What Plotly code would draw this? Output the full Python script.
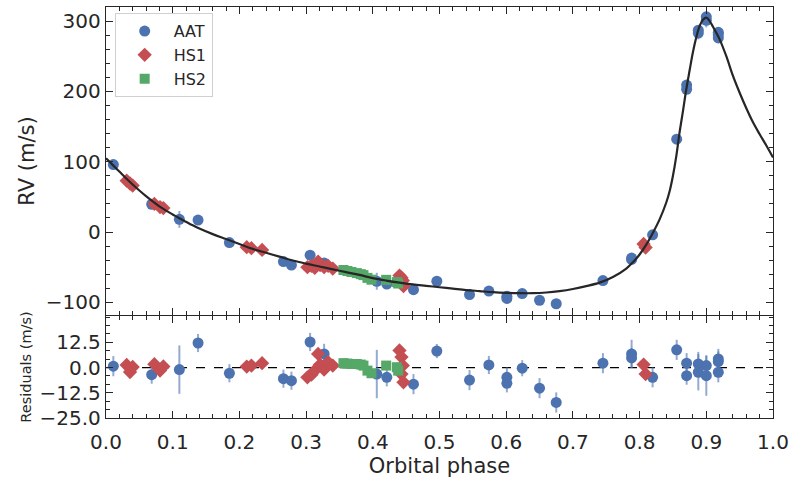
import plotly.graph_objects as go

# ---------------- data ----------------
# Keplerian model curve
model_phase = [0.00, 0.01, 0.02, 0.03, 0.04, 0.05, 0.06, 0.07, 0.08, 0.09, 0.10, 0.11, 0.12, 0.13,
               0.14, 0.16, 0.18, 0.20, 0.22, 0.24, 0.26, 0.28, 0.30, 0.32, 0.34, 0.36, 0.38, 0.40,
               0.42, 0.44, 0.46, 0.48, 0.50, 0.52, 0.54, 0.56, 0.58, 0.60, 0.62, 0.64, 0.66, 0.68,
               0.70, 0.72, 0.74, 0.76, 0.78, 0.79, 0.80, 0.81, 0.82, 0.83, 0.84, 0.845, 0.85, 0.855,
               0.86, 0.865, 0.87, 0.875, 0.88, 0.885, 0.89, 0.895, 0.90, 0.905, 0.91, 0.92, 0.93,
               0.94, 0.95, 0.96, 0.97, 0.98, 0.99, 1.00]
model_rv = [105, 95.5, 86, 76.5, 67.5, 59, 51, 43.5, 36.5, 30.5, 25, 19.5, 14.5, 9.5,
            5, -3, -10, -17, -24, -29.5, -35, -40.5, -45, -49, -53, -57, -61, -65.5,
            -69, -72, -74.5, -76.5, -78.5, -80.5, -82.5, -84, -85.5, -86.5, -87, -87, -86, -84,
            -81, -77, -72, -64, -52, -43, -32, -18, -1, 18, 42, 58, 80, 108,
            142, 172, 203, 230, 256, 277, 293, 302, 305, 300, 292, 274, 250,
            222, 198, 176, 156, 139, 123, 106]

# AAT
aat_phase = [0.011, 0.0685, 0.110, 0.138, 0.185, 0.266, 0.278, 0.306, 0.327, 0.406, 0.421, 0.461,
             0.496, 0.545, 0.574, 0.601, 0.601, 0.624, 0.650, 0.675, 0.745, 0.788, 0.788, 0.8195,
             0.8556, 0.8705, 0.8705, 0.888, 0.888, 0.900, 0.900, 0.918, 0.918, 0.918]
aat_rv = [96, 39.5, 18, 17, -15, -42, -47, -33, -44, -70, -74, -82,
          -70, -89, -84, -91.5, -94.5, -87.5, -97, -102, -69, -37, -39, -4,
          132, 209, 203, 287, 283, 306, 301, 284, 281, 276]
aat_err = [5, 4.5, 12, 4.5, 4.5, 4.5, 4.5, 4.5, 5, 12, 4.5, 5,
           3.5, 5, 4.5, 5, 4.5, 4, 5, 5, 5, 7, 5, 5,
           5, 5, 4.5, 6, 9, 5, 10, 5, 5, 5]
aat_res = [0.7, -3.5, -1.0, 12.2, -2.8, -5.5, -6.5, 12.7, 6.8, -3.2, -4.8, -8.2,
           8.2, -6.2, 1.3, -4.8, -7.8, -0.3, -10.2, -17.3, 2.2, 6.8, 4.8, -4.8,
           8.8, 2.2, -4.0, 1.8, -2.3, 1.0, -4.0, 4.3, 3.0, -2.3]

# HS1
hs1_phase = [0.031, 0.036, 0.040, 0.0725, 0.081, 0.086, 0.211, 0.218, 0.234,
             0.302, 0.308, 0.313, 0.318, 0.321, 0.327, 0.333, 0.340,
             0.440, 0.443, 0.445, 0.443, 0.446, 0.806, 0.809]
hs1_rv = [73, 69, 66, 40, 35.5, 34, -21.5, -23, -25.5,
          -50, -48, -51, -42, -47, -50, -48, -52,
          -62, -65, -69, -73, -77, -17, -22]
hs1_err = [2] * 24
hs1_res = [1.3, -2.2, 0.3, 1.7, -1.5, 0.6, 0.5, 1.0, 2.2,
           -4.8, -3.5, -1.5, 6.8, 1.5, -1.0, 2.7, 1.0,
           8.5, 5.2, 1.0, -3.2, -7.3, 1.5, -3.2]

# HS2
hs2_phase = [0.356, 0.362, 0.368, 0.376, 0.382, 0.386, 0.392, 0.398, 0.420, 0.436, 0.438]
hs2_rv = [-54, -55.4, -56.8, -58.4, -59.9, -61.3, -65.2, -67.8, -68, -71.2, -73.2]
hs2_err = [1.5] * 11
hs2_res = [2.2, 2.0, 1.8, 1.8, 1.5, 1.0, -1.5, -2.8, 1.0, 0.2, -1.5]

# ---------------- styling ----------------
BLUE = "#4C72B0"
RED = "#C44E52"
GREEN = "#55A868"
AX = "#262626"
FONT = "DejaVu Sans"

fig = go.Figure()


def add_series(name, ph, rv, err, res, color, ecolor, symbol, size):
    fig.add_trace(go.Scatter(
        x=ph, y=rv, mode="markers", name=name, legendgroup=name,
        marker=dict(color=color, symbol=symbol, size=size, line=dict(width=0)),
        error_y=dict(type="data", array=err, visible=True, color=ecolor, thickness=2, width=0),
        xaxis="x", yaxis="y"))
    fig.add_trace(go.Scatter(
        x=ph, y=res, mode="markers", name=name, legendgroup=name, showlegend=False,
        marker=dict(color=color, symbol=symbol, size=size, line=dict(width=0)),
        error_y=dict(type="data", array=err, visible=True, color=ecolor, thickness=2, width=0),
        xaxis="x2", yaxis="y2"))


add_series("AAT", aat_phase, aat_rv, aat_err, aat_res, BLUE, "rgba(76,114,176,0.6)", "circle", 11)
add_series("HS1", hs1_phase, hs1_rv, hs1_err, hs1_res, RED, "rgba(196,78,82,0.6)", "diamond", 11)
add_series("HS2", hs2_phase, hs2_rv, hs2_err, hs2_res, GREEN, "rgba(85,168,104,0.6)", "square", 10)

fig.add_trace(go.Scatter(x=model_phase, y=model_rv, mode="lines", line=dict(color=AX, width=2.2, shape="spline"),
                         showlegend=False, hoverinfo="skip", xaxis="x", yaxis="y"))

axis_common = dict(showline=True, linecolor=AX, linewidth=1.4, mirror="ticks", ticks="inside",
                   tickcolor=AX, tickwidth=1.2, ticklen=7, showgrid=False, zeroline=False,
                   automargin=False, tickfont=dict(family=FONT, size=20, color=AX))

res_minor = [-25 + i * 12.5 / 3 for i in range(13)]

fig.update_layout(
    width=793, height=482,
    margin=dict(l=106, r=20, t=7, b=64),
    plot_bgcolor="white", paper_bgcolor="white",
    font=dict(family=FONT, color=AX),
    showlegend=True,
    legend=dict(x=0.013, y=0.985, xanchor="left", yanchor="top", bgcolor="rgba(255,255,255,0.85)",
                bordercolor="#d0d0d0", borderwidth=1, font=dict(family=FONT, size=16, color=AX),
                itemwidth=48, tracegroupgap=0),
    xaxis=dict(**axis_common, domain=[0, 1], range=[0, 1], anchor="y", matches="x2", showticklabels=False,
               dtick=0.1, minor=dict(ticks="inside", ticklen=4, dtick=0.02, tickcolor=AX, tickwidth=1)),
    yaxis=dict(**axis_common, domain=[0.2506, 1], range=[-118, 320], anchor="x", dtick=100, tick0=0,
               title=dict(text="RV (m/s)", font=dict(family=FONT, size=21, color=AX), standoff=5),
               minor=dict(ticks="inside", ticklen=4, dtick=20, tick0=0, tickcolor=AX, tickwidth=1)),
    xaxis2=dict(**axis_common, domain=[0, 1], range=[0, 1], anchor="y2", dtick=0.1, tickformat=".1f",
                ticklabelstandoff=6,
                title=dict(text="Orbital phase", font=dict(family=FONT, size=21, color=AX), standoff=2),
                minor=dict(ticks="inside", ticklen=4, dtick=0.02, tickcolor=AX, tickwidth=1)),
    yaxis2=dict(**axis_common, domain=[0, 0.2482], range=[-25, 25.6], anchor="x2",
                tickvals=[-25, -12.5, 0, 12.5], ticktext=["\u221225.0", "\u221212.5", "0.0", "12.5"],
                title=dict(text="Residuals (m/s)", font=dict(family=FONT, size=14.5, color=AX), standoff=4),
                minor=dict(ticks="inside", ticklen=4, tickvals=res_minor, tickcolor=AX, tickwidth=1)),
    shapes=[dict(type="line", xref="x2 domain", x0=0, x1=1, yref="y2", y0=0, y1=0,
                 line=dict(color="black", width=1.2, dash="dash"), layer="below")],
)

fig.write_html("out.html", config={"displayModeBar": False},
               post_script="document.body.style.margin='0px';")
